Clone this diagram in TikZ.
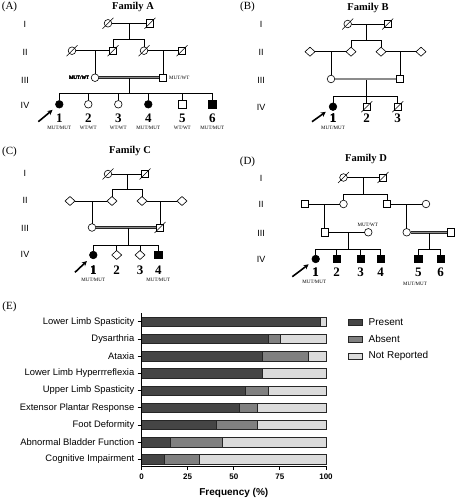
\documentclass[tikz,border=0pt]{standalone}
\usepackage{fontspec}
\setmainfont{Liberation Serif}
\setsansfont{Liberation Sans}
\usetikzlibrary{shapes.geometric,arrows.meta,calc}
\definecolor{pres}{gray}{0.27}
\definecolor{absn}{gray}{0.5}
\definecolor{nrep}{gray}{0.86}
\newcommand\deceasedmark[1]{\draw[slash] ($(#1.center)+(-5.5,5.5)$) -- ($(#1.center)+(5.5,-5.5)$);}
\begin{document}
\begin{tikzpicture}[x=1pt,y=-1pt,
  sym/.style={draw=black, line width=0.6pt, fill=white, inner sep=0pt, outer sep=0pt},
  fem/.style={sym, circle, minimum size=7.6pt},
  mal/.style={sym, rectangle, minimum size=7.2pt},
  unk/.style={sym, diamond, minimum width=10pt, minimum height=9pt},
  aff/.style={fill=black},
  ln/.style={line width=0.6pt},
  cons/.style={line width=0.55pt, draw=black!85, double=black!45, double distance=1.4pt},
  slash/.style={line width=0.55pt},
  gen/.style={font=\sffamily\fontsize{9}{9}\selectfont, inner sep=0pt},
  num/.style={font=\bfseries\fontsize{13}{13}\selectfont, inner sep=0pt},
  geno/.style={font=\fontsize{5}{5}\selectfont, inner sep=0pt},
  panel/.style={font=\fontsize{11}{11}\selectfont, inner sep=0pt},
  fam/.style={font=\bfseries\fontsize{10.5}{10.5}\selectfont, inner sep=0pt},
  proband/.style={-{Stealth[length=5pt,width=5pt]}, line width=1.6pt, shorten >=5pt},
  bar/.style={draw=black!85, line width=0.5pt},
  axis/.style={line width=0.8pt},
  ylab/.style={font=\sffamily\fontsize{9.4}{9.4}\selectfont, inner sep=0pt, anchor=east},
  xlab/.style={font=\sffamily\bfseries\fontsize{8}{8}\selectfont, inner sep=0pt},
  leg/.style={font=\sffamily\fontsize{10}{10}\selectfont, inner sep=0pt, anchor=west},
]
\useasboundingbox (0,0) rectangle (455,500);

% ---------------- Panel A ----------------
\node[panel] (pA) at (9.5,7) {(A)};
\node[fam] (fA) at (133,7) {Family A};
\node[gen] (gA1) at (25,24) {I};
\node[gen] (gA2) at (25,52) {II};
\node[gen] (gA3) at (25,80.5) {III};
\node[gen] (gA4) at (25,105.5) {IV};
\node[fem] (A1) at (108,23.3) {};
\node[mal] (A2) at (150,23.3) {};
\draw[ln] (A1) -- (A2);
\coordinate (Am1) at (129,23.3);
\coordinate (As1) at (129,39);
\draw[ln] (Am1) -- (As1);
\node[fem] (A3) at (72,50.7) {};
\node[mal] (A4) at (113,50.7) {};
\node[fem] (A5) at (144,50.7) {};
\node[mal] (A6) at (182,50.7) {};
\draw[ln] (A4) -- (A4|-As1) -- (A5|-As1) -- (A5);
\draw[ln] (A3) -- (A4);
\draw[ln] (A5) -- (A6);
\node[fem] (A7) at (95,77.7) {};
\node[mal] (A8) at (163,77.7) {};
\draw[ln] (A7|-A3) -- (A7);
\draw[ln] (A8|-A6) -- (A8);
\draw[cons] (A7) -- (A8);
\coordinate (Am3) at (129,78.5);
\coordinate (As3) at (129,93.3);
\draw[ln] (Am3) -- (As3);
\node[fem,aff] (A9) at (59.3,104.3) {};
\node[fem] (A10) at (88.3,104.3) {};
\node[fem] (A11) at (118.3,104.3) {};
\node[fem,aff] (A12) at (148.3,104.3) {};
\node[mal] (A13) at (182.3,104.3) {};
\node[mal,aff] (A14) at (212.3,104.3) {};
\draw[ln] (A9) -- (A9|-As3) -- (A14|-As3) -- (A14);
\foreach \n in {A10,A11,A12,A13} \draw[ln] (\n) -- (\n|-As3);
\foreach \n in {A1,A2,A3,A4,A5,A6} \deceasedmark{\n}
\node[geno, anchor=east] (Ag7) at (89.5,77.7) {MUT/WT};
\node[geno, anchor=west] (Ag8) at (169,77.7) {MUT/WT};
\node[num] (An1) at (59.3,118.3) {1};
\node[num] (An2) at (88.3,118.3) {2};
\node[num] (An3) at (118.3,118.3) {3};
\node[num] (An4) at (148.3,118.3) {4};
\node[num] (An5) at (182.3,118.3) {5};
\node[num] (An6) at (212.3,118.3) {6};
\node[geno] (Ag1) at (59.3,127.7) {MUT/MUT};
\node[geno] (Ag2) at (88.3,127.7) {WT/WT};
\node[geno] (Ag3) at (118.3,127.7) {WT/WT};
\node[geno] (Ag4) at (148.3,127.7) {MUT/MUT};
\node[geno] (Ag5) at (182.3,127.7) {WT/WT};
\node[geno] (Ag6) at (212.3,127.7) {MUT/MUT};
\coordinate (Aar) at (38.3,121.7);
\draw[proband] (Aar) -- (A9);

% ---------------- Panel B ----------------
\node[panel] (pB) at (247.5,7) {(B)};
\node[fam] (fB) at (368,8) {Family B};
\node[gen] (gB1) at (261,24) {I};
\node[gen] (gB2) at (261,52) {II};
\node[gen] (gB3) at (261,80) {III};
\node[gen] (gB4) at (261,107) {IV};
\node[fem] (B1) at (347.7,24) {};
\node[mal] (B2) at (387.7,24) {};
\draw[ln] (B1) -- (B2);
\coordinate (Bm1) at (366.7,24);
\coordinate (Bs1) at (366.7,40);
\draw[ln] (Bm1) -- (Bs1);
\node[unk] (B3) at (310,51.7) {};
\node[unk] (B4) at (351,51.7) {};
\node[unk] (B5) at (381,51.7) {};
\node[unk] (B6) at (421,51.7) {};
\draw[ln] (B4) -- (B4|-Bs1) -- (B5|-Bs1) -- (B5);
\draw[ln] (B3) -- (B4);
\draw[ln] (B5) -- (B6);
\node[fem] (B7) at (331,79) {};
\node[mal] (B8) at (400,79) {};
\draw[ln] (B7|-B3) -- (B7);
\draw[ln] (B8|-B6) -- (B8);
\draw[cons] (B7) -- (B8);
\coordinate (Bm3) at (366.7,79.8);
\coordinate (Bs3) at (366.7,96.7);
\draw[ln] (Bm3) -- (Bs3);
\node[fem,aff] (B9) at (333,106.7) {};
\node[mal] (B10) at (366.7,106.7) {};
\node[mal] (B11) at (397.7,106.7) {};
\draw[ln] (B9) -- (B9|-Bs3) -- (B11|-Bs3) -- (B11);
\draw[ln] (B10) -- (B10|-Bs3);
\foreach \n in {B1,B2,B10,B11} \deceasedmark{\n}
\node[num] (Bn1) at (333,118.3) {1};
\node[num] (Bn2) at (366.7,118.3) {2};
\node[num] (Bn3) at (397.7,118.3) {3};
\node[geno] (Bg1) at (333,127.7) {MUT/MUT};
\coordinate (Bar) at (312,121.7);
\draw[proband] (Bar) -- (B9);

% ---------------- Panel C ----------------
\node[panel] (pC) at (9.5,152) {(C)};
\node[fam] (fC) at (130,151) {Family C};
\node[gen] (gC1) at (25,173) {I};
\node[gen] (gC2) at (25,200.5) {II};
\node[gen] (gC3) at (25,228) {III};
\node[gen] (gC4) at (25,254.5) {IV};
\node[fem] (C1) at (108,174) {};
\node[mal] (C2) at (145,174) {};
\draw[ln] (C1) -- (C2);
\coordinate (Cm1) at (127,174);
\coordinate (Cs1) at (127,189);
\draw[ln] (Cm1) -- (Cs1);
\node[unk] (C3) at (70,201) {};
\node[unk] (C4) at (112,201) {};
\node[unk] (C5) at (142,201) {};
\node[unk] (C6) at (182,201) {};
\draw[ln] (C4) -- (C4|-Cs1) -- (C5|-Cs1) -- (C5);
\draw[ln] (C3) -- (C4);
\draw[ln] (C5) -- (C6);
\node[fem] (C7) at (92,227.5) {};
\node[mal] (C8) at (160,227.5) {};
\draw[ln] (C7|-C3) -- (C7);
\draw[ln] (C8|-C6) -- (C8);
\draw[cons] (C7) -- (C8);
\coordinate (Cm3) at (128,228.3);
\coordinate (Cs3) at (128,245);
\draw[ln] (Cm3) -- (Cs3);
\node[fem,aff] (C9) at (93.3,255) {};
\node[unk] (C10) at (116.7,255) {};
\node[unk] (C11) at (140,255) {};
\node[mal,aff] (C12) at (158.3,255) {};
\draw[ln] (C9) -- (C9|-Cs3) -- (C12|-Cs3) -- (C12);
\foreach \n in {C10,C11} \draw[ln] (\n) -- (\n|-Cs3);
\foreach \n in {C1,C2,C8} \deceasedmark{\n}
\node[num] (Cn1) at (93.3,270) {1};
\node[num] (Cn2) at (116.7,270) {2};
\node[num] (Cn3) at (140,270) {3};
\node[num] (Cn4) at (158.3,270) {4};
\node[geno] (Cg1) at (93.3,279.5) {MUT/MUT};
\node[geno] (Cg4) at (158.3,279.5) {MUT/MUT};
\coordinate (Car) at (75,272.3);
\draw[proband] (Car) -- (C9);

% ---------------- Panel D ----------------
\node[panel] (pD) at (247.5,161.5) {(D)};
\node[fam] (fD) at (366,159) {Family D};
\node[gen] (gD1) at (261,178) {I};
\node[gen] (gD2) at (261,204) {II};
\node[gen] (gD3) at (261,233) {III};
\node[gen] (gD4) at (261,259) {IV};
\node[fem] (D1) at (343.5,177.5) {};
\node[mal] (D2) at (383,177.5) {};
\draw[ln] (D1) -- (D2);
\coordinate (Dm1) at (363.3,177.5);
\coordinate (Ds1) at (363.3,194.3);
\draw[ln] (Dm1) -- (Ds1);
\node[mal] (D3) at (305,204) {};
\node[fem] (D4) at (343.5,204) {};
\node[mal] (D5) at (387,204) {};
\node[fem] (D6) at (426,204) {};
\draw[ln] (D4) -- (D4|-Ds1) -- (D5|-Ds1) -- (D5);
\draw[ln] (D3) -- (D4);
\draw[ln] (D5) -- (D6);
\node[mal] (D7) at (324.5,232.3) {};
\node[fem] (D8) at (368.3,232.3) {};
\node[fem] (D9) at (406.7,232.3) {};
\node[mal] (D10) at (450.7,232.3) {};
\draw[ln] (D7|-D3) -- (D7);
\draw[ln] (D9|-D6) -- (D9);
\draw[ln] (D7) -- (D8);
\draw[cons] (D9) -- (D10);
\node[geno] (Dg8) at (367.7,225) {MUT/WT};
\coordinate (Dm3) at (348.3,232.3);
\coordinate (Ds3) at (348.3,249);
\draw[ln] (Dm3) -- (Ds3);
\coordinate (Dm4) at (429,233.1);
\coordinate (Ds4) at (429,249);
\draw[ln] (Dm4) -- (Ds4);
\node[fem,aff] (D11) at (315.7,259) {};
\node[mal,aff] (D12) at (336.7,259) {};
\node[mal,aff] (D13) at (360.5,259) {};
\node[mal,aff] (D14) at (380.7,259) {};
\node[mal,aff] (D15) at (418.3,259) {};
\node[mal,aff] (D16) at (440.7,259) {};
\draw[ln] (D11) -- (D11|-Ds3) -- (D14|-Ds3) -- (D14);
\foreach \n in {D12,D13} \draw[ln] (\n) -- (\n|-Ds3);
\draw[ln] (D15) -- (D15|-Ds4) -- (D16|-Ds4) -- (D16);
\foreach \n in {D1,D2} \deceasedmark{\n}
\node[num] (Dn1) at (315.7,272.3) {1};
\node[num] (Dn2) at (336.7,272.3) {2};
\node[num] (Dn3) at (360.5,272.3) {3};
\node[num] (Dn4) at (380.7,272.3) {4};
\node[num] (Dn5) at (418.3,272.3) {5};
\node[num] (Dn6) at (440.7,272.3) {6};
\node[geno] (Dg1) at (314.3,281.7) {MUT/MUT};
\node[geno] (Dg5) at (415,283.5) {MUT/MUT};
\coordinate (Dar) at (292.3,276.7);
\draw[proband] (Dar) -- (D11);

% ---------------- Panel E ----------------
\node[panel] (pE) at (9.5,307.3) {(E)};
\foreach \lab/\pr/\ab [count=\i] in {
  Lower Limb Spasticity/96.875/96.875,
  Dysarthria/68.75/75,
  Ataxia/65.625/90.625,
  Lower Limb Hyperrreflexia/65.625/65.625,
  Upper Limb Spasticity/56.25/68.75,
  Extensor Plantar Response/53.125/62.5,
  Foot Deformity/40.625/62.5,
  Abnormal Bladder Function/15.625/43.75,
  Cognitive Impairment/12.5/31.25} {
  \pgfmathsetmacro\yy{321.7+(\i-1)*17.2}
  \pgfmathsetmacro\xp{141.5+\pr*1.845}
  \pgfmathsetmacro\xa{141.5+\ab*1.845}
  \draw[bar, fill=pres] (141.5,\yy-4.7) rectangle (\xp,\yy+4.7);
  \ifdim\ab pt>\pr pt \draw[bar, fill=absn] (\xp,\yy-4.7) rectangle (\xa,\yy+4.7);\fi
  \draw[bar, fill=nrep] (\xa,\yy-4.7) rectangle (326,\yy+4.7);
  \draw[axis] (137.5,\yy) -- (141.5,\yy);
  \node[ylab] (lab\i) at (134.5,\yy) {\lab};
}
\draw[axis] (141.5,313) -- (141.5,466) -- (326,466);
\foreach \v [count=\k] in {0,25,50,75,100} {
  \draw[axis] (141.5+\v*1.845,466) -- (141.5+\v*1.845,470);
  \node[xlab] (xt\k) at (141.5+\v*1.845,477) {\v};
}
\node[font=\sffamily\bfseries\fontsize{10}{10}\selectfont, inner sep=0pt] (xtitle) at (233.8,493) {Frequency (\%)};
\draw[bar, fill=pres] (348.3,319) rectangle (362.3,325.7);
\draw[bar, fill=absn] (348.3,336) rectangle (362.3,342.7);
\draw[bar, fill=nrep] (348.3,353) rectangle (362.3,359.7);
\node[leg] (legP) at (368.5,322.3) {Present};
\node[leg] (legA) at (368.5,339.3) {Absent};
\node[leg] (legN) at (368.5,356.3) {Not Reported};
\end{tikzpicture}
\end{document}
